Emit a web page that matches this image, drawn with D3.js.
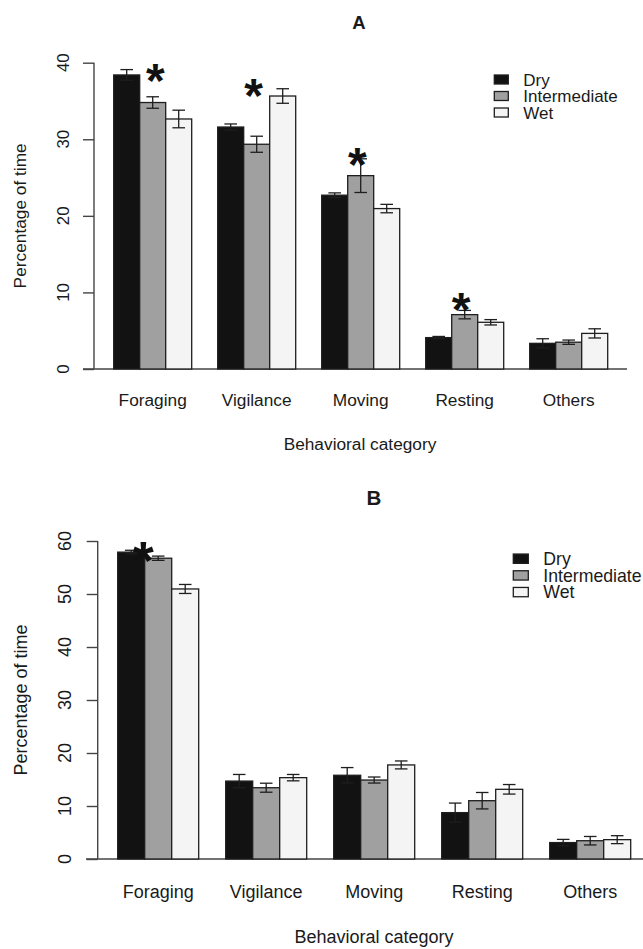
<!DOCTYPE html>
<html>
<head>
<meta charset="utf-8">
<script src="https://cdn.jsdelivr.net/npm/d3@7"></script>
<style>
  html, body { margin: 0; padding: 0; background: #fff; }
  svg { display: block; }
  text { font-family: "Liberation Sans", Arial, sans-serif; fill: #1a1a1a; }
</style>
</head>
<body>
<svg id="chart" width="643" height="949"></svg>
<script>
// ---------------- DATA ----------------
const categories = ["Foraging", "Vigilance", "Moving", "Resting", "Others"];
const seriesNames = ["Dry", "Intermediate", "Wet"];
const seriesColors = ["#121212", "#a0a0a0", "#f4f4f4"];

// Panel A
const dryA  = [38.4, 31.6, 22.7, 4.1, 3.35];
const intA  = [34.8, 29.35, 25.25, 7.1, 3.5];
const wetA  = [32.65, 35.65, 20.95, 6.1, 4.65];
const dryAErr = [0.7, 0.4, 0.3, 0.15, 0.6];
const intAErr = [0.75, 1.05, 2.2, 0.55, 0.28];
const wetAErr = [1.15, 0.95, 0.55, 0.35, 0.6];
const ticksA = [0, 10, 20, 30, 40];
const starsA = [
  { cat: "Foraging", pos: 1.6, value: 38.7 },
  { cat: "Vigilance", pos: 1.38, value: 36.7 },
  { cat: "Moving", pos: 1.37, value: 27.7 },
  { cat: "Resting", pos: 1.36, value: 8.8 }
];

// Panel B
const dryB  = [57.9, 14.7, 15.8, 8.75, 3.1];
const intB  = [56.75, 13.45, 14.9, 11.0, 3.45];
const wetB  = [50.95, 15.35, 17.75, 13.15, 3.65];
const dryBErr = [0.35, 1.25, 1.45, 1.8, 0.6];
const intBErr = [0.4, 0.85, 0.57, 1.55, 0.8];
const wetBErr = [0.85, 0.6, 0.75, 0.9, 0.75];
const ticksB = [0, 10, 20, 30, 40, 50, 60];
const starsB = [
  { cat: "Foraging", pos: 0.95, value: 58.0 }
];

const yTitle = "Percentage of time";
const xTitle = "Behavioral category";

// ---------------- DRAW ----------------
const svg = d3.select("#chart");

function drawPanel(cfg) {
  const g = svg.append("g");
  const values = [cfg.dry, cfg.int, cfg.wet];
  const errs = [cfg.dryErr, cfg.intErr, cfg.wetErr];
  const fs = cfg.fontSize;

  // x scale in bar units: each group = 1 space + 3 bars
  const x = d3.scaleLinear().domain([0, categories.length * 4]).range(cfg.xRange);
  const unit = x(1) - x(0);
  const y = d3.scaleLinear().domain(cfg.yDomain).range(cfg.yRange);
  const groupStart = i => 1 + i * 4;

  const rows = [];
  categories.forEach((c, i) => {
    seriesNames.forEach((s, j) => {
      rows.push({ cat: c, i, j, v: values[j][i], e: errs[j][i] });
    });
  });

  // baseline
  g.append("line")
    .attr("x1", cfg.baseline[0]).attr("x2", cfg.baseline[1])
    .attr("y1", y(0)).attr("y2", y(0))
    .attr("stroke", "#444").attr("stroke-width", 1.4);

  // bars
  g.selectAll("rect.bar").data(rows).enter().append("rect")
    .attr("class", "bar")
    .attr("x", d => x(groupStart(d.i) + d.j))
    .attr("width", unit)
    .attr("y", d => y(d.v))
    .attr("height", d => y(0) - y(d.v))
    .attr("fill", d => seriesColors[d.j])
    .attr("stroke", "#1e1e1e").attr("stroke-width", 1.3);

  // error bars
  const capW = 6.3;
  const cx = d => x(groupStart(d.i) + d.j + 0.5);
  const eb = g.selectAll("g.err").data(rows).enter().append("g").attr("class", "err")
    .attr("stroke", "#1e1e1e").attr("stroke-width", 1.3);
  eb.append("line")
    .attr("x1", cx).attr("x2", cx)
    .attr("y1", d => y(d.v - d.e)).attr("y2", d => y(d.v + d.e));
  eb.append("line")
    .attr("x1", d => cx(d) - capW).attr("x2", d => cx(d) + capW)
    .attr("y1", d => y(d.v + d.e)).attr("y2", d => y(d.v + d.e));
  eb.append("line")
    .attr("x1", d => cx(d) - capW).attr("x2", d => cx(d) + capW)
    .attr("y1", d => y(d.v - d.e)).attr("y2", d => y(d.v - d.e));

  // y axis
  const yAxis = d3.axisLeft(y).tickValues(cfg.ticks).tickSize(cfg.tickLen).tickFormat(() => "");
  const ag = g.append("g").attr("transform", `translate(${cfg.yAxisX},0)`).call(yAxis);
  ag.select(".domain").attr("d", `M0,${y(cfg.ticks[0])}V${y(cfg.ticks[cfg.ticks.length - 1])}`)
    .attr("stroke", "#444").attr("stroke-width", 1.4);
  ag.selectAll(".tick line").attr("stroke", "#444").attr("stroke-width", 1.4);
  ag.selectAll(".tick text").remove();

  // rotated tick labels (parallel to axis, reading bottom-to-top)
  const tl = g.append("g").attr("class", "yticklabels");
  cfg.ticks.forEach(t => {
    tl.append("text")
      .attr("transform", "rotate(-90)")
      .attr("x", -y(t))
      .attr("y", cfg.tickLabelX)
      .attr("text-anchor", "middle")
      .attr("font-size", cfg.tickFont)
      .text(String(t));
  });

  // y title
  g.append("text")
    .attr("transform", "rotate(-90)")
    .attr("x", -(cfg.yRange[0] + cfg.yRange[1]) / 2)
    .attr("y", cfg.yTitleX)
    .attr("text-anchor", "middle").attr("font-size", fs)
    .text(yTitle);

  // category labels
  g.selectAll("text.cat").data(categories).enter().append("text")
    .attr("class", "cat")
    .attr("x", (d, i) => x(groupStart(i) + 1.5))
    .attr("y", cfg.catY)
    .attr("text-anchor", "middle").attr("font-size", fs)
    .text(d => d);

  // x title
  g.append("text")
    .attr("x", cfg.xTitleX).attr("y", cfg.xTitleY)
    .attr("text-anchor", "middle").attr("font-size", fs)
    .text(xTitle);

  // panel title
  g.append("text")
    .attr("x", cfg.titleX).attr("y", cfg.titleY)
    .attr("text-anchor", "middle").attr("font-size", cfg.titleFont).attr("font-weight", "bold")
    .text(cfg.title);

  // stars
  const sfs = cfg.starFont;
  g.selectAll("text.star").data(cfg.stars).enter().append("text")
    .attr("class", "star")
    .attr("x", d => x(groupStart(categories.indexOf(d.cat)) + d.pos))
    .attr("y", d => y(d.value) + 0.5 * sfs)
    .attr("text-anchor", "middle").attr("font-size", sfs).attr("font-weight", "bold")
    .style("fill", "#111")
    .text("*");

  // legend
  const lg = g.append("g");
  seriesNames.forEach((s, j) => {
    const cy = cfg.legend.y0 + j * cfg.legend.dy;
    lg.append("rect")
      .attr("x", cfg.legend.x).attr("y", cy - cfg.legend.h / 2)
      .attr("width", cfg.legend.w).attr("height", cfg.legend.h)
      .attr("fill", seriesColors[j]).attr("stroke", "#1e1e1e").attr("stroke-width", 1.3);
    lg.append("text")
      .attr("x", cfg.legend.tx).attr("y", cy + cfg.legend.font * 0.36)
      .attr("font-size", cfg.legend.font)
      .text(s);
  });
}

drawPanel({
  title: "A", titleX: 359, titleY: 28.5, titleFont: 18.5,
  dry: dryA, int: intA, wet: wetA, dryErr: dryAErr, intErr: intAErr, wetErr: wetAErr,
  ticks: ticksA, stars: starsA,
  xRange: [87.7, 607.7], yDomain: [0, 40], yRange: [369, 62.7],
  baseline: [83, 627], yAxisX: 94, tickLen: 11,
  tickLabelX: 69.3, tickFont: 16.8, yTitleX: 26, fontSize: 17.3,
  catY: 406, xTitleX: 360, xTitleY: 450,
  starFont: 48,
  legend: { x: 494.3, w: 14, h: 9, y0: 79.5, dy: 16.5, tx: 523.3, font: 17 }
});

drawPanel({
  title: "B", titleX: 374, titleY: 505, titleFont: 20.5,
  dry: dryB, int: intB, wet: wetB, dryErr: dryBErr, intErr: intBErr, wetErr: wetBErr,
  ticks: ticksB, stars: starsB,
  xRange: [90.7, 630.7], yDomain: [0, 60], yRange: [859, 541],
  baseline: [86, 643], yAxisX: 97.7, tickLen: 11,
  tickLabelX: 71.2, tickFont: 18, yTitleX: 26.5, fontSize: 18,
  catY: 898, xTitleX: 374, xTitleY: 943,
  starFont: 54,
  legend: { x: 513.3, w: 15, h: 9.3, y0: 558.7, dy: 16.7, tx: 543.3, font: 17.7 }
});
</script>
</body>
</html>
